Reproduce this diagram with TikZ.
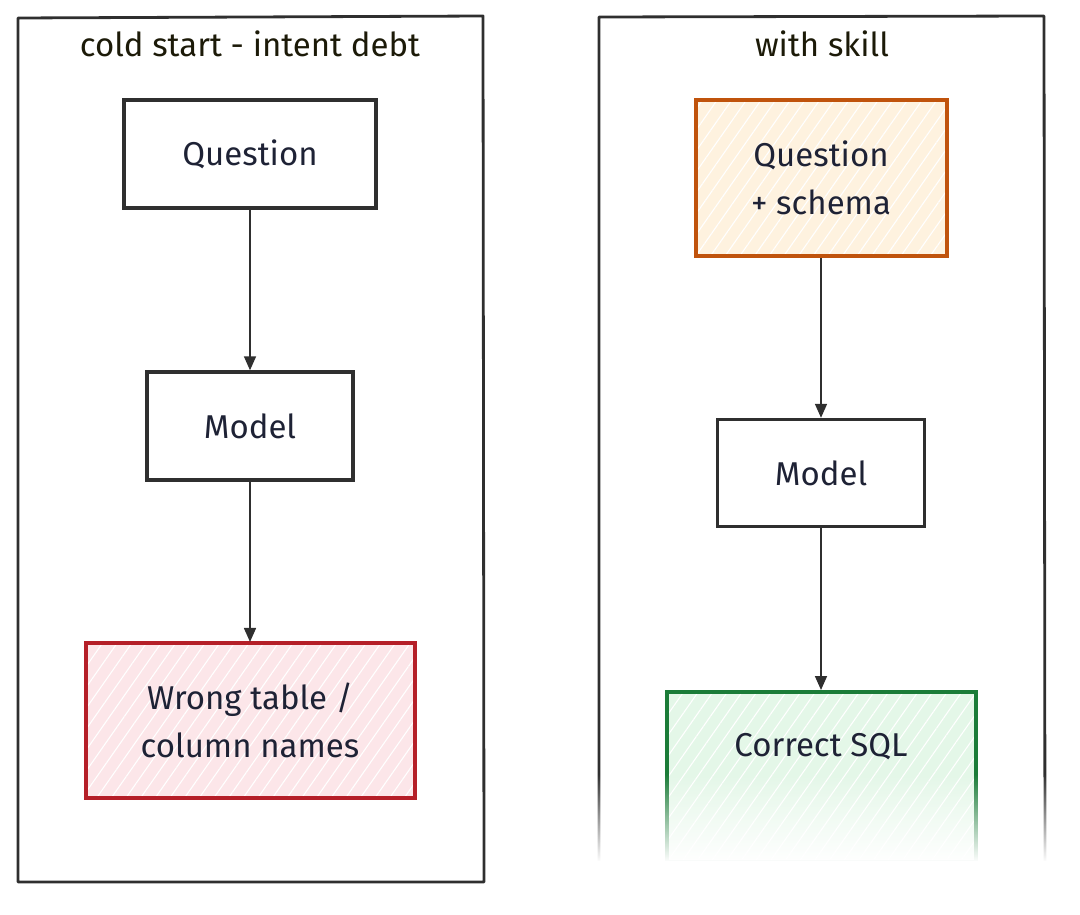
\documentclass[tikz,border=0pt]{standalone}
\usepackage{fontspec}
\setmainfont{Fira Sans}
\usetikzlibrary{arrows.meta,patterns.meta,fadings}
\definecolor{ink}{HTML}{1E2235}
\definecolor{titleink}{HTML}{1C1A08}
\definecolor{framec}{HTML}{2F2F2F}
\definecolor{redS}{HTML}{B51F28}
\definecolor{redF}{HTML}{FCE6E9}
\definecolor{orS}{HTML}{C0530C}
\definecolor{orF}{HTML}{FEF2DF}
\definecolor{grS}{HTML}{1B7C38}
\definecolor{grF}{HTML}{E4F7E8}
\tikzfading[name=fadeup, top color=transparent!100, bottom color=transparent!0]
\tikzset{
  framepath/.style={draw=framec, line width=2.8pt, line join=round},
  boxbase/.style={draw=framec, line width=3.4pt, inner sep=0pt, align=center,
    text=ink, font=\fontsize{33}{48}\selectfont},
  hatched/.style={line width=4pt, preaction={fill=#1}, pattern={Lines[angle=55,distance=12pt,line width=1.1pt]}, pattern color=white},
  titletext/.style={text=titleink, font=\fontsize{33}{36}\selectfont, inner sep=0pt},
  flow/.style={draw=framec, line width=1.7pt, -{Triangle[length=14pt,width=12pt]}},
}
\begin{document}
\begin{tikzpicture}[x=1pt,y=-1pt]
\useasboundingbox (0,0) rectangle (1080,915);
% left frame
\draw[framepath] (18,18) -- (483,16) -- (484,882) -- (18,882) -- cycle;
\node[titletext] (t1) at (250,44) {cold start - intent debt};
% right frame (open at the bottom)
\draw[framepath] (599,870) -- (599,17) -- (1044,16) -- (1045,870);
\node[titletext] (t2) at (822,44) {with skill};
% left column
\node[boxbase, minimum width=252pt, minimum height=108pt] (q1) at (250,154) {Question};
\node[boxbase, minimum width=206pt, minimum height=108pt] (m1) at (250,426) {Model};
\node[boxbase, draw=redS, hatched=redF, minimum width=329pt, minimum height=155pt] (w1) at (250,720) {Wrong table /\\column names};
% right column
\node[boxbase, draw=orS, hatched=orF, minimum width=251pt, minimum height=156pt] (q2) at (821,178) {Question\\+ schema};
\node[boxbase, minimum width=207pt, minimum height=107pt] (m2) at (821,473) {Model};
\node[boxbase, draw=grS, hatched=grF, minimum width=309pt, minimum height=170pt, anchor=north] (c2) at (821,690) {};
\node[boxbase, draw=none] (c2t) at (821,747) {Correct SQL};
% connectors
\draw[flow] (q1.south) -- (m1.north);
\draw[flow] (m1.south) -- (w1.north);
\draw[flow] (q2.south) -- (m2.north);
\draw[flow] (m2.south) -- (c2.north);
% fade-out of the cropped bottom of the right panel
\fill[white, path fading=fadeup] (588,774) rectangle (1080,862);
\fill[white] (588,861) rectangle (1080,915);
\end{tikzpicture}
\end{document}
